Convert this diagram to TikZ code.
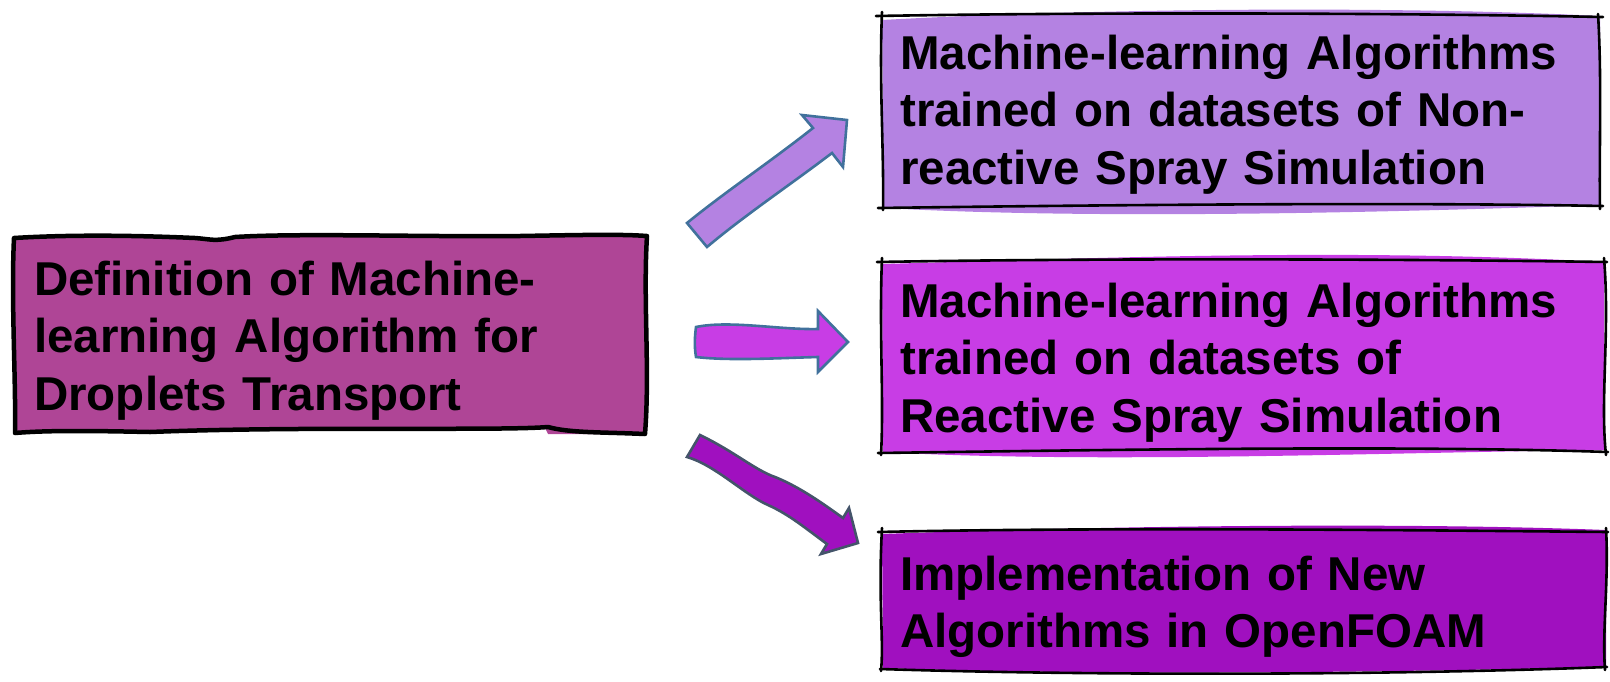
\documentclass[tikz,border=0pt]{standalone}
\usepackage{fontspec}
\setmainfont{Liberation Sans}
\definecolor{boxA}{HTML}{AF4596}
\definecolor{boxB}{HTML}{B482E2}
\definecolor{boxC}{HTML}{C83DE5}
\definecolor{boxD}{HTML}{A010BF}
\definecolor{arrowedge}{HTML}{41719C}
\definecolor{arrowedgedark}{HTML}{44546A}
\tikzset{
  boxtext/.style={anchor=base west, inner sep=0pt, text width=720pt, align=left,
    font=\bfseries\fontsize{47.5}{57.5}\selectfont},
  heavyline/.style={line width=4.5pt, line join=round, line cap=round},
  thinline/.style={line width=2.6pt, line join=round, line cap=round},
  blockarrow/.style={line width=2.6pt, line join=miter},
}
\begin{document}
\begin{tikzpicture}[x=1pt, y=-1pt]
\path[use as bounding box] (0,0) rectangle (1610,681);

% ---- source box (left) ----
\def\srcshape{(14,238) .. controls (80,234) and (150,236) .. (195,238)
  .. controls (210,239) and (215,242) .. (235,237)
  .. controls (300,233) and (420,237) .. (520,236)
  .. controls (580,235) and (620,234) .. (647,236)
  .. controls (643,300) and (650,370) .. (645,434)
  .. controls (600,432) and (570,433) .. (548,427)
  .. controls (500,431) and (300,426) .. (150,432)
  .. controls (100,431) and (50,430) .. (15,433)
  .. controls (16,380) and (11,300) .. cycle}
\fill[boxA] \srcshape;
\fill[boxA] (545,428) .. controls (580,434) and (610,433) .. (630,429) -- (630,434) -- (548,434) -- cycle;
\draw[heavyline] \srcshape;
\node[boxtext] (src) at (34,295) {Definition of Machine-\\learning Algorithm for\\Droplets Transport};

% ---- target box 1 ----
\fill[boxB] (882,20) .. controls (1100,8) and (1400,6) .. (1600,16) -- (1601,205)
  .. controls (1400,212) and (1100,220) .. (884,208) -- cycle;
\draw[thinline] (876,16) .. controls (1100,12) and (1400,13) .. (1603,17);
\draw[thinline] (1598,14) .. controls (1602,80) and (1599,150) .. (1600,209);
\draw[thinline] (1603,206) .. controls (1400,202) and (1100,205) .. (878,208);
\draw[thinline] (882,12) .. controls (879,80) and (884,150) .. (883,210);
\node[boxtext] (t1) at (900,69) {Machine-learning Algorithms\\trained on datasets of Non-\\reactive Spray Simulation};

% ---- target box 2 ----
\fill[boxC] (882,264) .. controls (1100,258) and (1350,248) .. (1604,262) -- (1604,450)
  .. controls (1400,452) and (1100,464) .. (883,452) -- cycle;
\draw[thinline] (877,262) .. controls (1100,258) and (1400,259) .. (1607,262);
\draw[thinline] (1604,258) .. controls (1610,330) and (1600,400) .. (1606,455);
\draw[thinline] (1608,452) .. controls (1400,445) and (1100,450) .. (878,453);
\draw[thinline] (882,258) .. controls (879,330) and (884,400) .. (881,455);
\node[boxtext] (t2) at (900,317) {Machine-learning Algorithms\\trained on datasets of\\Reactive Spray Simulation};

% ---- target box 3 ----
\fill[boxD] (882,534) .. controls (1100,526) and (1400,522) .. (1606,530) -- (1606,667)
  .. controls (1400,672) and (1100,676) .. (883,668) -- cycle;
\draw[thinline] (878,532) .. controls (1100,527) and (1400,530) .. (1608,532);
\draw[thinline] (1606,528) .. controls (1609,580) and (1602,630) .. (1605,670);
\draw[thinline] (1607,667) .. controls (1400,675) and (1100,676) .. (880,669);
\draw[thinline] (882,528) .. controls (878,600) and (884,640) .. (881,671);
\node[boxtext] (t3) at (900,590) {Implementation of New\\Algorithms in OpenFOAM};

% ---- block arrows ----
\filldraw[blockarrow, fill=boxB, draw=arrowedge]
  (687,223) .. controls (725,192) and (770,162) .. (813,128)
  -- (802,115) -- (847,120) -- (843,167) -- (832,153)
  .. controls (790,185) and (745,215) .. (707,247) -- cycle;
\filldraw[blockarrow, fill=boxC, draw=arrowedge]
  (696,327) .. controls (730,320) and (780,330) .. (818,329)
  -- (818,311) -- (848,342) -- (818,372) -- (818,357)
  .. controls (780,358) and (730,361) .. (696,357)
  .. controls (694,345) and (695,335) .. cycle;
\filldraw[blockarrow, fill=boxD, draw=arrowedgedark]
  (700,435) .. controls (735,452) and (755,470) .. (775,477)
  .. controls (800,487) and (825,505) .. (843,518)
  -- (849,508) -- (858,543) -- (821,554) -- (827,544)
  .. controls (805,528) and (790,515) .. (768,505)
  .. controls (745,495) and (715,465) .. (687,457) -- cycle;
\end{tikzpicture}
\end{document}
